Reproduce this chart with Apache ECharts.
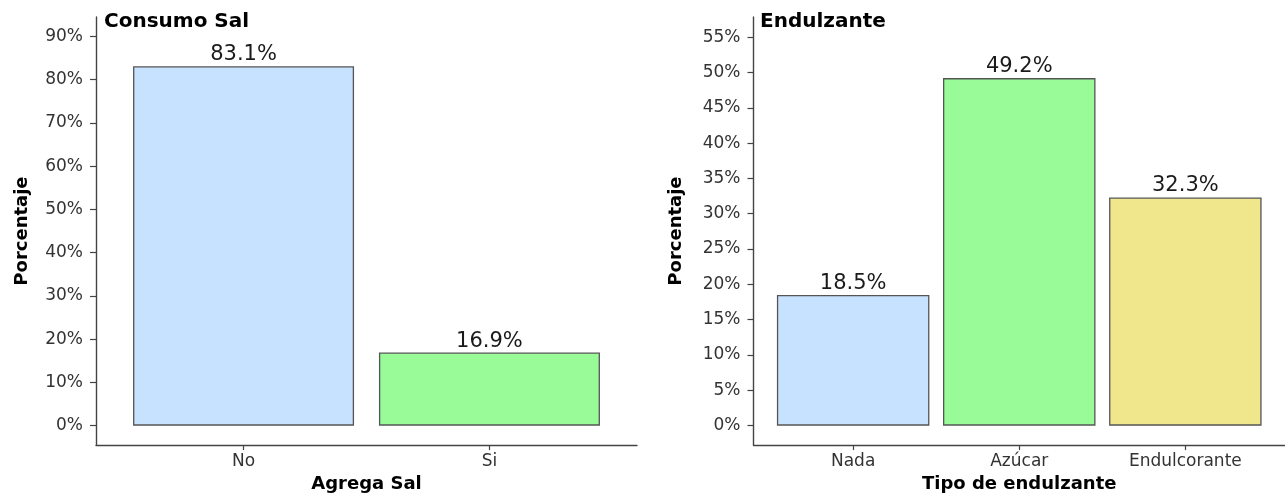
<!DOCTYPE html>
<html>
<head>
<meta charset="utf-8">
<script src="https://cdn.jsdelivr.net/npm/echarts@6/dist/echarts.min.js"></script>
<style>
  html, body { margin: 0; padding: 0; background: #ffffff; }
  #chart { width: 1285px; height: 498px; }
</style>
</head>
<body>
<div id="chart"></div>
<script>
// ---- data ----
const salCategories = ['No', 'Si'];
const salValues = [83.1, 16.9];
const salTicks = [0, 10, 20, 30, 40, 50, 60, 70, 80, 90];

const endCategories = ['Nada', 'Azúcar', 'Endulcorante'];
const endValues = [18.5, 49.2, 32.3];
const endTicks = [0, 5, 10, 15, 20, 25, 30, 35, 40, 45, 50, 55];

const salColors = ['#C6E2FF', '#98FB98'];
const endColors = ['#C6E2FF', '#98FB98', '#F0E68C'];

// ---- styling ----
const FONT = 'DejaVu Sans';
const axisColor = '#444';
const labelColor = '#333';

function pct(v) { return v + '%'; }

function xAxisFor(gridIndex, cats, name) {
  const ticks = cats.map((c, i) => i + 1);
  return {
    type: 'value', gridIndex: gridIndex,
    min: 0.4, max: cats.length + 0.6,
    name: name, nameLocation: 'middle', nameGap: 29,
    nameTextStyle: { fontFamily: FONT, fontSize: 18, fontWeight: 'bold', color: '#000' },
    axisLine: { show: true, onZero: false, lineStyle: { color: axisColor, width: 1.4 } },
    axisTick: { show: true, customValues: ticks, length: 5, lineStyle: { color: axisColor, width: 1.2 } },
    axisLabel: {
      show: true, customValues: ticks, margin: 8,
      fontFamily: FONT, fontSize: 17, color: labelColor,
      formatter: function (v) { return cats[Math.round(v) - 1] || ''; }
    },
    splitLine: { show: false }
  };
}

function yAxisFor(gridIndex, ticks, min, max, gap) {
  return {
    type: 'value', gridIndex: gridIndex,
    min: min, max: max,
    name: 'Porcentaje', nameLocation: 'middle', nameGap: gap, nameRotate: 90,
    nameTextStyle: { fontFamily: FONT, fontSize: 18, fontWeight: 'bold', color: '#000' },
    axisLine: { show: true, onZero: false, lineStyle: { color: axisColor, width: 1.4 } },
    axisTick: { show: true, customValues: ticks, length: 6, lineStyle: { color: axisColor, width: 1.2 } },
    axisLabel: {
      show: true, customValues: ticks, margin: 13,
      fontFamily: FONT, fontSize: 17, color: labelColor,
      formatter: pct
    },
    splitLine: { show: false }
  };
}

function barSeries(idx, values, colors, width) {
  return {
    type: 'bar', xAxisIndex: idx, yAxisIndex: idx,
    barWidth: width,
    data: values.map((v, i) => ({
      value: [i + 1, v],
      itemStyle: { color: colors[i], borderColor: '#555', borderWidth: 1.3 }
    })),
    label: {
      show: true, position: 'top', distance: 1,
      fontFamily: FONT, fontSize: 21, color: '#1a1a1a',
      formatter: function (p) { return p.value[1].toFixed(1) + '%'; }
    },
    emphasis: { disabled: true },
    animation: false
  };
}

const chart = echarts.init(document.getElementById('chart'), null, { renderer: 'canvas' });
chart.setOption({
  backgroundColor: '#ffffff',
  animation: false,
  title: [
    { text: 'Consumo Sal', left: 104, top: 12, padding: 0,
      textStyle: { fontFamily: FONT, fontSize: 20, fontWeight: 'bold', color: '#000' } },
    { text: 'Endulzante', left: 760, top: 12, padding: 0,
      textStyle: { fontFamily: FONT, fontSize: 20, fontWeight: 'bold', color: '#000' } }
  ],
  grid: [
    { left: 96, top: 17, width: 541, height: 432.5 },
    { left: 753.5, top: 17, width: 542.4, height: 432.5 }
  ],
  xAxis: [
    xAxisFor(0, salCategories, 'Agrega Sal'),
    xAxisFor(1, endCategories, 'Tipo de endulzante')
  ],
  yAxis: [
    yAxisFor(0, salTicks, -4.5, 94.5, 65),
    yAxisFor(1, endTicks, -2.75, 57.85, 68)
  ],
  series: [
    barSeries(0, salValues, salColors, 221),
    barSeries(1, endValues, endColors, 152.5)
  ]
});
</script>
</body>
</html>
